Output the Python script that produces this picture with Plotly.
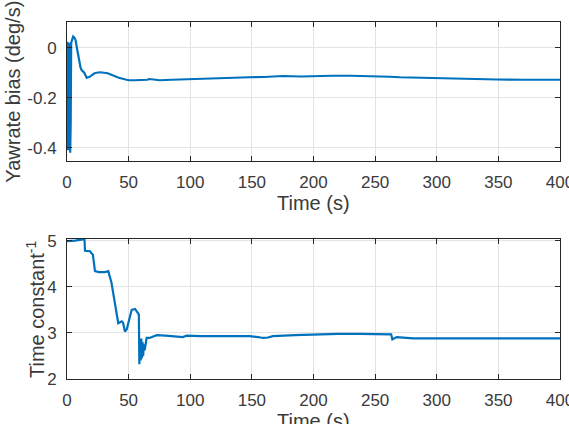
import plotly.graph_objects as go

# ---- data ----
t_bias = [0, 0.4, 0.8, 1.2, 1.6, 2.0, 2.6, 3.0, 3.4, 4.0, 5.0, 6.0, 7.0, 8.0, 9.0, 10.0,
          11.0, 12.0, 13.0, 14.0, 15.0, 16.0, 17.0, 18.5, 20, 22, 24, 27, 30, 33,
          36, 39, 42, 46, 50, 55, 60, 65, 67, 70, 75, 85, 100, 120, 148, 160, 175,
          190, 200, 215, 230, 245, 262, 270, 285, 300, 320, 349, 370, 400]
bias = [0.02, 0.02, -0.41, 0.02, -0.3, 0.02, -0.42, -0.3, 0.02, 0.03, 0.045, 0.04, 0.03,
        0.0, -0.03, -0.06, -0.08, -0.09, -0.095, -0.10, -0.11, -0.12, -0.118, -0.116,
        -0.11, -0.103, -0.10, -0.098, -0.10, -0.102, -0.108, -0.115, -0.12, -0.125,
        -0.13, -0.13, -0.13, -0.128, -0.125, -0.128, -0.13, -0.128, -0.125, -0.122,
        -0.118, -0.117, -0.113, -0.115, -0.113, -0.112, -0.112, -0.113, -0.116,
        -0.118, -0.12, -0.122, -0.125, -0.127, -0.128, -0.128]

t_tc = [0, 3, 6.5, 9, 12, 13.3, 14.2, 14.6, 18.7, 20, 21, 22.7, 26, 30.8, 33.5, 36,
        39, 41.6, 44.4, 45.5, 47, 48.5, 49.7, 51, 52.5, 55.2, 57.9, 58.3, 58.7, 59.3,
        59.8, 60.3, 60.8, 61.3, 61.8, 62.3, 63, 64.6, 67, 72.8, 80, 94, 97, 108, 130,
        148, 155, 159, 163, 167, 185, 203, 220, 238, 262, 263, 264, 265.5, 267.5,
        281, 300, 350, 400]
tc = [4.99, 4.99, 5.0, 5.01, 5.02, 5.03, 5.03, 4.78, 4.77, 4.72, 4.7, 4.34, 4.32,
      4.32, 4.34, 4.1, 3.65, 3.21, 3.25, 3.22, 3.03, 3.08, 3.21, 3.35, 3.5, 3.52,
      3.42, 3.4, 2.32, 2.85, 2.4, 2.88, 2.45, 2.8, 2.5, 2.75, 2.62, 2.89, 2.89, 2.95,
      2.94, 2.91, 2.94, 2.93, 2.93, 2.93, 2.91, 2.89, 2.9, 2.93, 2.95, 2.97, 2.98,
      2.98, 2.98, 2.97, 2.86, 2.88, 2.91, 2.88, 2.88, 2.88, 2.88]

x_ticks = [0, 50, 100, 150, 200, 250, 300, 350, 400]
y1_ticks = [-0.4, -0.2, 0]
y1_labels = ["-0.4", "-0.2", "0"]
y2_ticks = [2, 3, 4, 5]
y2_labels = ["2", "3", "4", "5"]

x_title = "Time (s)"
y1_title = "Yawrate bias (deg/s)"
y2_title = "Time constant<sup>-1</sup>"

LINE = "#0072BD"
AX = "#262626"
TXT = "#3a3a3a"
GRID = "#e3e3e3"
FONT = "Liberation Sans, Arial, sans-serif"

fig = go.Figure()
fig.add_trace(go.Scatter(x=t_bias, y=bias, mode="lines",
                         line=dict(color=LINE, width=2.2), xaxis="x", yaxis="y"))
fig.add_trace(go.Scatter(x=t_tc, y=tc, mode="lines",
                         line=dict(color=LINE, width=2.2), xaxis="x2", yaxis="y2"))

axis_common = dict(showline=True, linecolor=AX, linewidth=1, mirror="ticks",
                   ticks="inside", ticklen=5, tickcolor=AX, showgrid=True,
                   gridcolor=GRID, zeroline=False, ticklabeloverflow="allow",
                   automargin=False,
                   tickfont=dict(family=FONT, size=17, color=TXT))

fig.update_layout(
    width=569, height=424,
    margin=dict(l=67, r=9, t=22, b=45, autoexpand=False),
    paper_bgcolor="white", plot_bgcolor="white",
    showlegend=False,
    xaxis=dict(domain=[0, 1], range=[0, 400.0001], tickvals=x_ticks, anchor="y",
               ticklabelstandoff=6, **axis_common),
    yaxis=dict(domain=[0.6106, 1], range=[-0.453, 0.103], tickvals=y1_ticks,
               ticktext=y1_labels, anchor="x", ticklabelstandoff=6, **axis_common),
    xaxis2=dict(domain=[0, 1], range=[0, 400.0001], tickvals=x_ticks, anchor="y2",
                ticklabelstandoff=6, **axis_common),
    yaxis2=dict(domain=[0, 0.392], range=[2, 5.035], tickvals=y2_ticks,
                ticktext=y2_labels, anchor="x2", ticklabelstandoff=6, **axis_common),
)

title_font = dict(family=FONT, size=20, color=TXT)
fig.add_annotation(text=x_title, xref="paper", yref="paper", x=0.5, y=0.493,
                   xanchor="center", yanchor="middle", showarrow=False, font=title_font)
fig.add_annotation(text=x_title, xref="paper", yref="paper", x=0.5, y=-0.1176,
                   xanchor="center", yanchor="middle", showarrow=False, font=title_font)
fig.add_annotation(text=y1_title, xref="paper", yref="paper", x=-0.1095, y=0.805,
                   xanchor="center", yanchor="middle", textangle=-90, showarrow=False,
                   font=title_font)
fig.add_annotation(text=y2_title, xref="paper", yref="paper", x=-0.0649, y=0.196,
                   xanchor="center", yanchor="middle", textangle=-90, showarrow=False,
                   font=title_font)

fig.write_html("out.html")
